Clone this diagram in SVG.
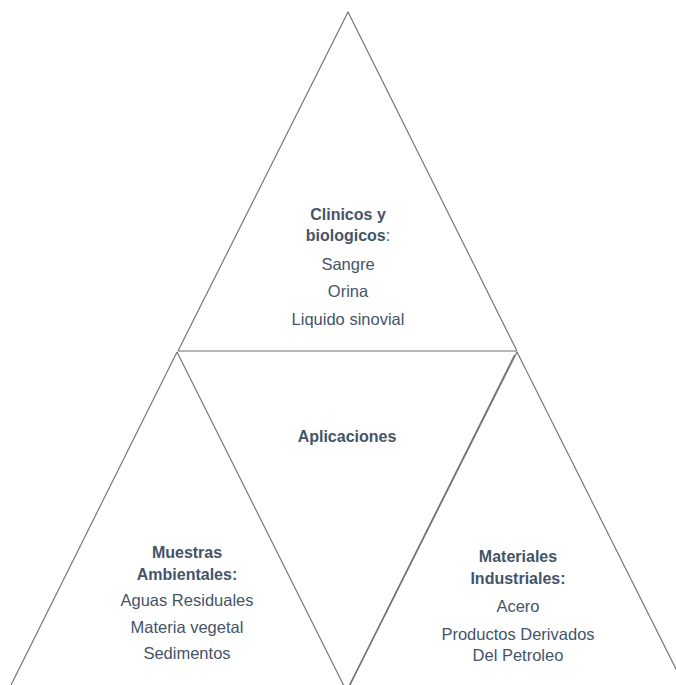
<svg xmlns="http://www.w3.org/2000/svg" width="676" height="685" viewBox="0 0 676 685">
  <style>
    .edge { fill: none; stroke: #6e6e6e; stroke-width: 1.1; }
    text { font-family: "Liberation Sans", "Noto Sans", sans-serif; fill: #44546A; text-anchor: middle; font-size: 16.5px; }
    .title { font-weight: bold; font-size: 16px; }
  </style>
  <rect width="676" height="685" fill="#ffffff"/>
  <g id="connectors">
    <!-- top triangle -->
    <polyline class="edge" points="178,351 348,12 517,351"/>
    <line class="edge" x1="178" y1="351" x2="517" y2="351"/>
    <!-- left triangle -->
    <line class="edge" x1="177" y1="352" x2="11" y2="685"/>
    <line class="edge" x1="177" y1="352" x2="345" y2="688"/>
    <!-- right triangle (doubled left edge) -->
    <line class="edge" x1="517" y1="352" x2="350" y2="685"/>
    <line class="edge" x1="514.5" y1="355" x2="347" y2="690"/>
    <line class="edge" x1="517" y1="352" x2="684" y2="685"/>
  </g>
  <g id="clinicos">
    <text class="title" x="348" y="220">Clinicos y</text>
    <text class="title" x="348" y="241">biologicos<tspan font-weight="normal">:</tspan></text>
    <text x="348" y="270">Sangre</text>
    <text x="348" y="297">Orina</text>
    <text x="348" y="325">Liquido sinovial</text>
  </g>
  <g id="aplicaciones">
    <text class="title" x="347" y="442">Aplicaciones</text>
  </g>
  <g id="muestras">
    <text class="title" x="187" y="558">Muestras</text>
    <text class="title" x="187" y="580">Ambientales:</text>
    <text x="187" y="606">Aguas Residuales</text>
    <text x="187" y="633">Materia vegetal</text>
    <text x="187" y="659">Sedimentos</text>
  </g>
  <g id="materiales">
    <text class="title" x="518" y="562">Materiales</text>
    <text class="title" x="518" y="584">Industriales:</text>
    <text x="518" y="612">Acero</text>
    <text x="518" y="640">Productos Derivados</text>
    <text x="518" y="661">Del Petroleo</text>
  </g>
</svg>
